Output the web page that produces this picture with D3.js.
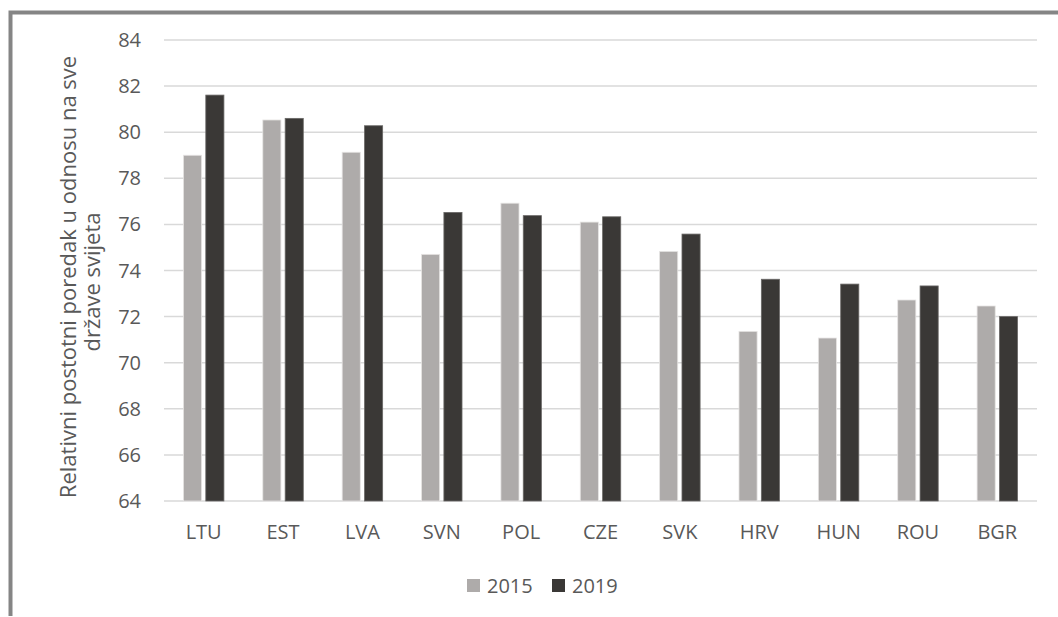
<!DOCTYPE html>
<html>
<head>
<meta charset="utf-8">
<script src="https://cdn.jsdelivr.net/npm/d3@7"></script>
<style>
  html, body { margin: 0; padding: 0; background: #fff; }
  svg { display: block; font-family: "Open Sans", "Noto Sans", sans-serif; }
</style>
</head>
<body>
<svg id="chart" width="1058" height="617"></svg>
<script>
// values
const countries = ['LTU','EST','LVA','SVN','POL','CZE','SVK','HRV','HUN','ROU','BGR'];
const years = ['2015','2019'];
const v2015 = [79.0, 80.53, 79.13, 74.7, 76.92, 76.1, 74.83, 71.36, 71.07, 72.72, 72.46];
const v2019 = [81.61, 80.6, 80.28, 76.52, 76.38, 76.33, 75.58, 73.62, 73.41, 73.33, 72.0];
const yTicks = [64, 66, 68, 70, 72, 74, 76, 78, 80, 82, 84];
const colors = { '2015': '#aeabaa', '2019': '#3a3836' };

const svg = d3.select('#chart');
const textCol = '#595959';

// outer frame (only top and left edges are visible in the reference)
svg.append('path')
  .attr('d', 'M10.5,616 V12.5 H1058')
  .attr('fill', 'none').attr('stroke', '#858585').attr('stroke-width', 4);

const x0 = d3.scaleBand().domain(countries).range([164, 1037])
  .paddingInner(0.49).paddingOuter(0.245);
const x1 = d3.scaleBand().domain(years).range([0, x0.bandwidth()]).paddingInner(0.19);
const y = d3.scaleLinear().domain([64, 84]).range([501, 40]);

// gridlines
svg.append('g').selectAll('line').data(yTicks).join('line')
  .attr('x1', 164).attr('x2', 1037)
  .attr('y1', d => y(d)).attr('y2', d => y(d))
  .attr('stroke', '#d9d9d9').attr('stroke-width', 1.5);

// y tick labels
svg.append('g').selectAll('text').data(yTicks).join('text')
  .attr('x', 141).attr('y', d => y(d)).attr('dy', '0.35em')
  .attr('text-anchor', 'end').attr('fill', textCol).attr('font-size', 20)
  .text(d => d);

// bars
const rows = countries.map((c, i) => ({ c, vals: [
  { year: '2015', v: v2015[i] }, { year: '2019', v: v2019[i] }] }));
svg.append('g').selectAll('g').data(rows).join('g')
  .attr('transform', d => `translate(${x0(d.c)},0)`)
  .selectAll('rect').data(d => d.vals).join('rect')
    .attr('x', d => x1(d.year)).attr('width', x1.bandwidth())
    .attr('y', d => y(d.v)).attr('height', d => y(64) - y(d.v))
    .attr('fill', d => colors[d.year])
    .attr('stroke', d => d.year === '2015' ? '#e6e4e3' : '#6a6866').attr('stroke-width', 0.8);

// category labels
svg.append('g').selectAll('text').data(countries).join('text')
  .attr('x', d => x0(d) + x0.bandwidth() / 2).attr('y', 532).attr('dy', '0.35em')
  .attr('text-anchor', 'middle').attr('fill', textCol).attr('font-size', 20)
  .text(d => d);

// axis title
const title = svg.append('text')
  .attr('transform', 'translate(0,277) rotate(-90)')
  .attr('text-anchor', 'middle').attr('fill', textCol).attr('font-size', 22);
title.append('tspan').attr('x', 0).attr('y', 76).text('Relativni postotni poredak u odnosu na sve');
title.append('tspan').attr('x', -5).attr('y', 100).text('države svijeta');

// legend
const legend = svg.append('g').selectAll('g').data(years).join('g')
  .attr('transform', (d, i) => `translate(${467 + i * 85},579)`);
legend.append('rect').attr('width', 13).attr('height', 13).attr('fill', d => colors[d]);
legend.append('text').attr('x', 20).attr('y', 6.5).attr('dy', '0.35em')
  .attr('fill', textCol).attr('font-size', 20).text(d => d);
</script>
</body>
</html>
